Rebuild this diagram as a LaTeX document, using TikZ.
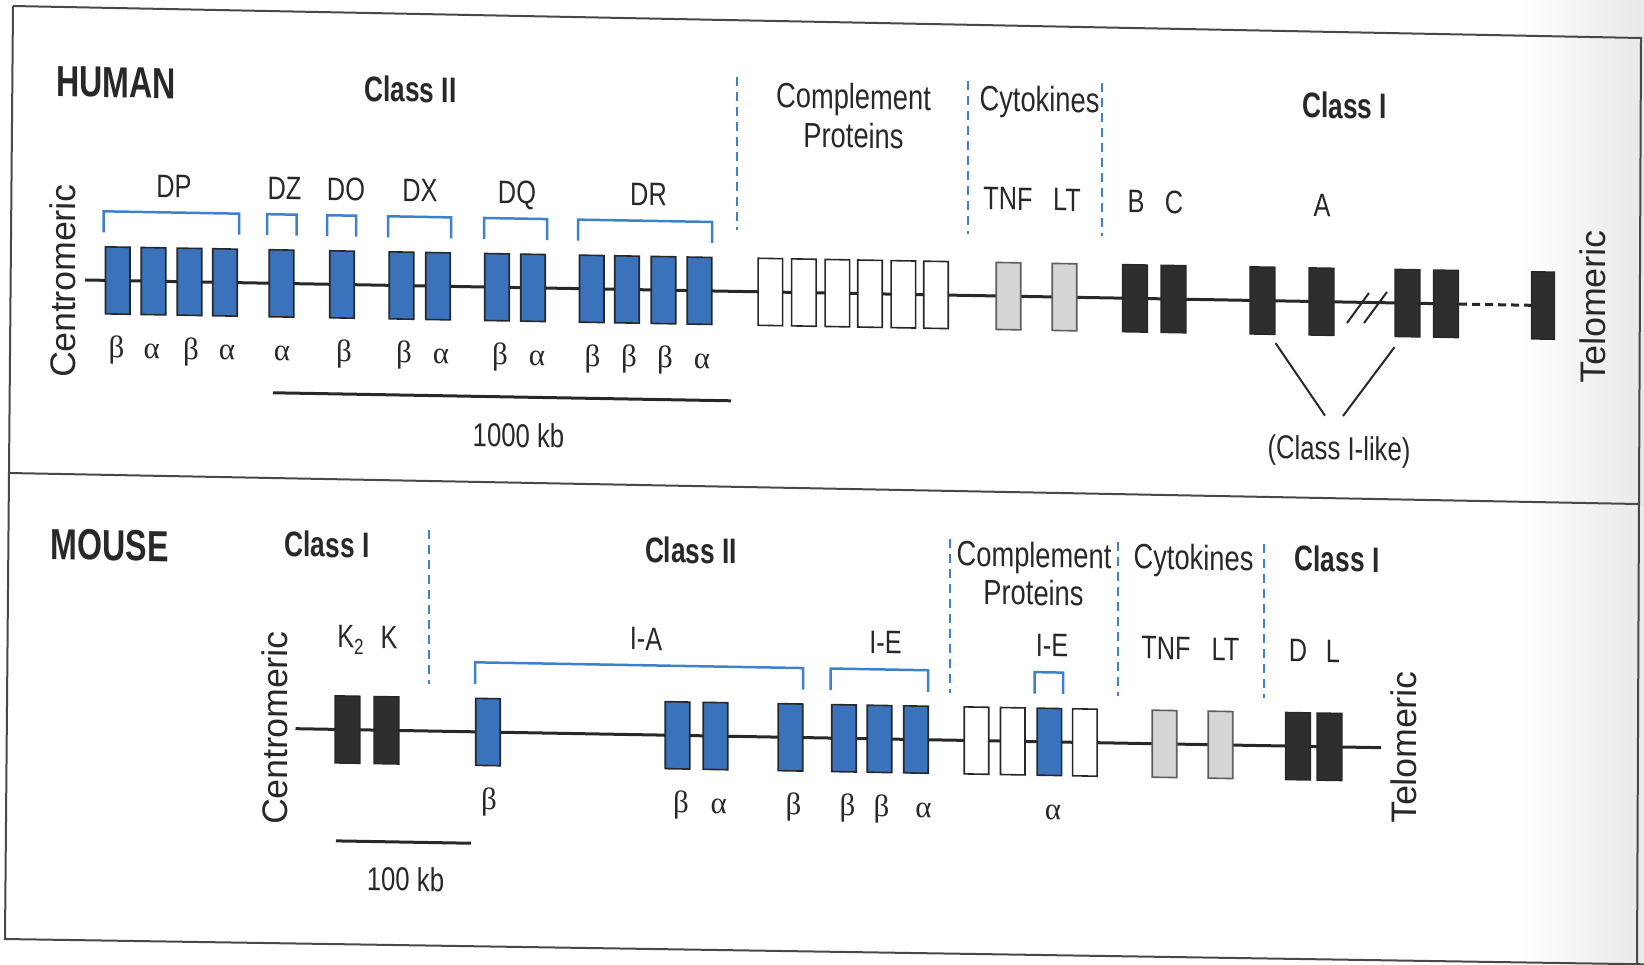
\documentclass[tikz,border=0pt]{standalone}
\usepackage{fontspec}
\setmainfont{Liberation Sans}
\newfontfamily\mhcCond{Liberation Sans}[FakeStretch=0.78]
\newfontfamily\mhcCondB{Liberation Sans}[FakeStretch=0.74]
\newfontfamily\mhcGreek{Liberation Serif}
\usetikzlibrary{calc}
\pgfdeclarelayer{bg}
\pgfsetlayers{bg,main}

\definecolor{genblue}{RGB}{58,114,188}
\definecolor{brblue}{RGB}{62,128,204}
\definecolor{ink}{RGB}{40,40,40}
\definecolor{clone}{RGB}{46,46,46}
\definecolor{tnfgray}{RGB}{214,214,214}

\newcommand\mhcHead{\mhcCondB\bfseries\fontsize{43.5pt}{48pt}\selectfont}
\newcommand\mhcClass{\mhcCondB\bfseries\fontsize{35.5pt}{40pt}\selectfont}
\newcommand\mhcSect{\mhcCond\fontsize{35pt}{40pt}\selectfont}
\newcommand\mhcGene{\mhcCond\fontsize{32.5pt}{36pt}\selectfont}
\newcommand\mhcScale{\mhcCond\fontsize{33pt}{38pt}\selectfont}
\newcommand\mhcGk{\mhcGreek\fontsize{31pt}{36pt}\selectfont}
\newcommand\mhcEnd{\fontsize{35.5pt}{40pt}\selectfont}
\newcommand\mhcBracket[4]{\draw[bracket] (#1,#4) -- (#1,#3) -- (#2,#3) -- (#2,#4);}

\tikzset{
  txt/.style={anchor=base, inner sep=0pt, text=ink},
  head/.style={txt, font=\mhcHead},
  cls/.style={txt, font=\mhcClass},
  sect/.style={txt, font=\mhcSect},
  glab/.style={txt, font=\mhcGene},
  gk/.style={txt, font=\mhcGk},
  scl/.style={txt, font=\mhcScale},
  endlab/.style={anchor=base, inner sep=0pt, text=ink, font=\mhcEnd, rotate=90},
  gbox/.style={draw=ink, line width=1.6pt, minimum width=24.5pt, minimum height=67pt, inner sep=0pt},
  cltwo/.style={gbox, fill=genblue},
  clonebox/.style={gbox, fill=clone},
  compl/.style={gbox, fill=white},
  cyto/.style={gbox, fill=tnfgray, draw=ink!75},
  chrom/.style={line width=3pt, draw=ink},
  gapline/.style={line width=3pt, draw=ink, dash pattern=on 8pt off 5pt},
  region/.style={draw=brblue, line width=2pt, dash pattern=on 9pt off 6pt},
  bracket/.style={draw=brblue, line width=2.5pt},
  sbar/.style={draw=ink, line width=3pt},
  frame/.style={draw=ink!85, line width=2pt},
  linker/.style={draw=ink, line width=2pt}
}

\begin{document}
\begin{tikzpicture}[x=1pt,y=-1pt]
\useasboundingbox (0,0) rectangle (1644,964);
\shade[left color=white,right color=black!9] (1520,0) rectangle (1644,964);

% panel frame
\draw[frame] (13,6) -- (1641,38) -- (1637,964);
\draw[frame] (13,6) -- (5,939) -- (1644,964.3);
\draw[frame] (9,473) -- (1638,504);

\begin{scope}[yslant=-0.0175, every node/.append style={transform shape}]

% ================= HUMAN =================
\node[head] (hTitle) at (116,95.5) {HUMAN};
\node[cls]  (hClassII) at (410.5,94.8) {Class II};
\node[sect] (hCompl) at (853.5,94) {Complement};
\node[sect] (hProt) at (853.5,133) {Proteins};
\node[sect] (hCyto) at (1039.5,93.5) {Cytokines};
\node[cls]  (hClassI) at (1344.5,94.8) {Class I};

\draw[region] (737,64) -- (737,217);
\draw[region] (968,64) -- (968,217);
\draw[region] (1102,64) -- (1102,217);

% locus labels
\node[glab] (hlDP) at (174,194.5) {DP};
\node[glab] (hlDZ) at (284.5,194.5) {DZ};
\node[glab] (hlDO) at (346,194.5) {DO};
\node[glab] (hlDX) at (420,194.5) {DX};
\node[glab] (hlDQ) at (517,194.5) {DQ};
\node[glab] (hlDR) at (648.5,194.5) {DR};
\node[glab] (hlTNF) at (1008,192.5) {TNF};
\node[glab] (hlLT) at (1067,192.5) {LT};
\node[glab] (hlB) at (1136,193) {B};
\node[glab] (hlC) at (1174,193) {C};
\node[glab] (hlA) at (1322,194) {A};

% locus brackets
\mhcBracket{103.5}{239}{209.5}{230.5}
\mhcBracket{267}{296.5}{209.5}{230.5}
\mhcBracket{327}{356}{209.5}{230.5}
\mhcBracket{388}{451}{209.5}{230.5}
\mhcBracket{484}{547}{209.5}{230.5}
\mhcBracket{578}{712}{209.5}{230.5}

% genes
\foreach \n/\x in {DP1/117.7, DP2/153.5, DP3/189.5, DP4/225, DZ/281.5, DO/342,
                   DX1/401.5, DX2/438, DQ1/497, DQ2/533,
                   DR1/591.7, DR2/627, DR3/663.5, DR4/699.5}
  \node[cltwo] (h\n) at (\x,278.5) {};
\foreach \n/\x in {CP1/770.3, CP2/803.8, CP3/837.3, CP4/870, CP5/903.3, CP6/936}
  \node[compl] (h\n) at (\x,278.5) {};
\node[cyto] (hTNF) at (1008.5,278.5) {};
\node[cyto] (hLT) at (1064.5,278.5) {};
\foreach \n/\x in {B/1135, C/1173.5, A1/1262.5, A2/1321.5, X1/1407.5, X2/1446}
  \node[clonebox] (h\n) at (\x,278.5) {};
\node[clonebox, minimum width=22.5pt] (hX3) at (1543,278.5) {};

\coordinate (hStart) at (85,278.5);
\coordinate (hEnd) at (1578,278.5);
\begin{pgfonlayer}{bg}
  \draw[chrom] (hStart) -- (hX2.center);
  \draw[chrom] (hX3.center) -- (hEnd);
\end{pgfonlayer}
\draw[gapline] (hX2.east) -- (hX3.west);

% break in the map
\draw[linker] (1347,299.4) -- (1369,269);
\draw[linker] (1364,299.1) -- (1387,267.7);

% chain types
\foreach \n/\x/\g in {1/116.5/β, 2/151.7/α, 3/191/β, 4/227/α, 5/282/α, 6/344/β,
                      7/404/β, 8/441/α, 9/500/β, 10/537/α,
                      11/592.4/β, 12/629/β, 13/665/β, 14/702/α}
  \node[gk] (hg\n) at (\x,356) {\g};

% scale bar
\coordinate (hBarL) at (273,388);
\coordinate (hBarR) at (731,388);
\draw[sbar] (hBarL) -- (hBarR);
\node[scl] (hKb) at (518.5,438) {1000 kb};

% class I-like genes
\node[scl] (like) at (1339,436.6) {(Class I-like)};
\draw[linker] ($(hA1.south east)+(0,8)$) -- ($(like.north)+(-14,-20)$);
\draw[linker] ($(hX1.south west)+(0,10)$) -- ($(like.north)+(4,-20)$);

\node[endlab] (hCen) at (75,280) {Centromeric};
\node[endlab] (hTel) at (1605,279) {Telomeric};

% ================= MOUSE =================
\node[head] (mTitle) at (109.5,558.5) {MOUSE};
\node[cls]  (mClassIa) at (327,551.3) {Class I};
\node[cls]  (mClassII) at (691,551) {Class II};
\node[sect] (mCompl) at (1034,549) {Complement};
\node[sect] (mProt) at (1033.5,587) {Proteins};
\node[sect] (mCyto) at (1193.5,549) {Cytokines};
\node[cls]  (mClassIb) at (1337,548.3) {Class I};

\draw[region] (429,522) -- (429,676);
\draw[region] (950,522) -- (950,676);
\draw[region] (1118,522) -- (1118,676);
\draw[region] (1263.5,522) -- (1263.5,676);

\node[glab] (mlK2) at (350.5,641.9) {K\raisebox{-6pt}{\fontsize{22pt}{22pt}\selectfont 2}};
\node[glab] (mlK) at (389,641.9) {K};
\node[glab] (mlIA) at (646,638.7) {I-A};
\node[glab] (mlIE) at (885.5,638.5) {I-E};
\node[glab] (mlIEb) at (1052,638.3) {I-E};
\node[glab] (mlTNF) at (1166,639) {TNF};
\node[glab] (mlLT) at (1225.5,639.5) {LT};
\node[glab] (mlD) at (1298,639) {D};
\node[glab] (mlL) at (1333,639) {L};

\mhcBracket{475}{803}{654}{675.5}
\mhcBracket{830.5}{928}{654}{675.5}
\mhcBracket{1034.5}{1063}{654}{675.5}

\node[clonebox] (mK2) at (347.5,723.5) {};
\node[clonebox] (mK) at (386.5,723.5) {};
\foreach \n/\x in {Ab1/488, Ab2/677.5, Aa/715.5, Ab3/790.5, Eb1/844, Eb2/879.5, Ea/916, Ea2/1049.3}
  \node[cltwo] (m\n) at (\x,723.5) {};
\foreach \n/\x in {CP1/976.5, CP2/1012.7, CP3/1084.8}
  \node[compl] (m\n) at (\x,723.5) {};
\node[cyto] (mTNF) at (1164.5,723.5) {};
\node[cyto] (mLT) at (1220.5,723.5) {};
\node[clonebox] (mD) at (1298,723.5) {};
\node[clonebox] (mL) at (1329.5,723.5) {};

\coordinate (mStart) at (295.5,723.5);
\coordinate (mEnd) at (1381,723.5);
\begin{pgfonlayer}{bg}
  \draw[chrom] (mStart) -- (mEnd);
\end{pgfonlayer}

\foreach \n/\x/\g in {1/489/β, 2/681/β, 3/718.7/α, 4/793.6/β,
                      5/847.6/β, 6/881.6/β, 7/923.5/α, 8/1053/α}
  \node[gk] (mg\n) at (\x,801) {\g};

\coordinate (mBarL) at (336,835);
\coordinate (mBarR) at (471,835);
\draw[sbar] (mBarL) -- (mBarR);
\node[scl] (mKb) at (405.5,884) {100 kb};

\node[endlab] (mCen) at (287.5,723.2) {Centromeric};
\node[endlab] (mTel) at (1416,722.9) {Telomeric};

\end{scope}
\end{tikzpicture}
\end{document}
